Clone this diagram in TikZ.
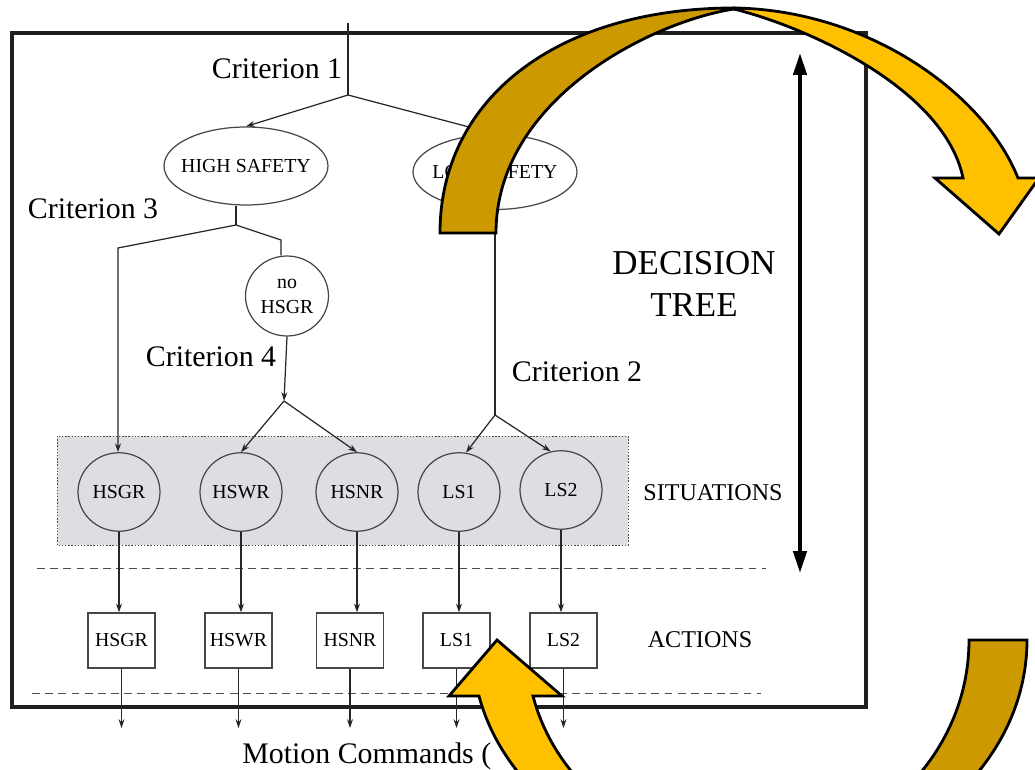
\documentclass[tikz,border=0pt]{standalone}
\usepackage{fontspec}
\setmainfont{Liberation Serif}
\usetikzlibrary{arrows.meta,shapes.geometric,calc}
\definecolor{darkgold}{RGB}{204,153,0}
\definecolor{lightgold}{RGB}{255,192,0}
\definecolor{shadegray}{RGB}{221,222,225}
\begin{document}
\begin{tikzpicture}[x=0.02cm,y=-0.02cm,
  treeline/.style={draw=black!85,line width=0.7pt},
  tarrow/.style={treeline,-{Stealth[length=5pt,width=3.4pt]}},
  oval/.style={ellipse,draw=black!72,line width=0.7pt,inner sep=0pt,font=\fontsize{11.3}{13}\selectfont},
  sitcircle/.style={oval,minimum width=1.64cm,minimum height=1.57cm},
  actbox/.style={rectangle,draw=black!72,line width=0.7pt,minimum width=1.34cm,minimum height=1.1cm,inner sep=0pt,font=\fontsize{11.3}{13}\selectfont},
  crit/.style={font=\fontsize{17}{20}\selectfont,inner sep=0pt},
  biglabel/.style={font=\fontsize{13.7}{16}\selectfont,inner sep=0pt},
  sepline/.style={draw=black!70,line width=0.5pt,dash pattern=on 4.5pt off 3pt},
  goldband/.style={draw=black,line width=1.6pt,line join=miter}
]
\useasboundingbox (0,0) rectangle (1035,770);

% frame
\draw[line width=2.3pt,draw=black!88] (12,33) rectangle (866,707);

% shaded situations region
\draw[fill=shadegray,draw=black!70,line width=0.5pt,dash pattern=on 0.8pt off 1pt] (57,436) rectangle (628,545);

% separators
\draw[sepline] (37,568) -- (766,568);
\draw[sepline] (32,693) -- (761,693);

% nodes
\node[oval,minimum width=3.28cm,minimum height=1.56cm] (hs) at (246,166) {\makebox[0pt]{HIGH SAFETY}};
\node[oval,minimum width=3.28cm,minimum height=1.5cm] (ls) at (495,172) {\makebox[0pt]{LOW SAFETY}};
\node[oval,minimum width=1.66cm,minimum height=1.6cm,align=center,font=\fontsize{11.3}{14.2}\selectfont] (nh) at (287,296) {no\\HSGR};

\node[sitcircle] (c1) at (119,492) {HSGR};
\node[sitcircle] (c2) at (241,492) {HSWR};
\node[sitcircle] (c3) at (357,492) {HSNR};
\node[sitcircle] (c4) at (459,492) {LS1};
\node[sitcircle] (c5) at (561,490) {LS2};

\node[actbox] (a1) at (121.5,640.5) {HSGR};
\node[actbox] (a2) at (238.5,640.5) {HSWR};
\node[actbox] (a3) at (350,640.5) {HSNR};
\node[actbox] (a4) at (456.5,640.5) {LS1};
\node[actbox] (a5) at (563.5,640.5) {LS2};

% labels
\node[crit] (cr1) at (277,69) {Criterion 1};
\node[crit] (cr3) at (93,209) {Criterion 3};
\node[crit] (cr4) at (211,357) {Criterion 4};
\node[crit] (cr2) at (577,372) {Criterion 2};
\node[font=\fontsize{19.9}{23.9}\selectfont,align=center,inner sep=0pt] (dt) at (694,284) {DECISION\\TREE};
\node[biglabel] (sit) at (713,493) {SITUATIONS};
\node[biglabel] (act) at (700,640) {ACTIONS};
\node[crit,anchor=base west] (mc) at (242,763) {Motion Commands (};

% tree connectors
\coordinate (top) at (348,23);
\coordinate (r1) at (348,95);
\draw[treeline] (top) -- (r1);
\draw[tarrow] (r1) -- (hs.north);
\draw[tarrow] (r1) -- (ls.north);

\coordinate (k0) at (236,225);
\coordinate (k1) at (118,248);
\coordinate (k2) at (281,240);
\draw[treeline] (hs.south -| k0) -- (k0);
\draw[tarrow] (k0) -- (k1) -- (k1 |- c1.north);
\draw[treeline] (k0) -- (k2) -- (k2 |- nh.north);

\coordinate (k3) at (284,401);
\draw[tarrow] (nh.south) -- (k3);
\draw[tarrow] (k3) -- (c2.north);
\draw[tarrow] (k3) -- (c3.north);

\coordinate (k4) at (495,415);
\draw[treeline] (ls.south) -- (k4);
\draw[tarrow] (k4) -- (c4.80);
\draw[tarrow] (k4) -- (c5.105);

\coordinate (base) at (0,728);
\foreach \i in {1,...,5}{
  \draw[tarrow] (c\i.south) -- (c\i.south |- a\i.north);
  \coordinate (o\i) at (a\i.south |- base);
  \draw[tarrow] (a\i.south) -- (o\i);
}

% decision tree double arrow
\coordinate (dtt) at (800,53);
\coordinate (dtb) at (800,573);
\draw[line width=2.2pt,{Triangle[length=12.5pt,width=7.5pt]}-{Triangle[length=12.5pt,width=7.5pt]}] (dtt) -- (dtb);

% top curved arrow
\filldraw[goldband,fill=darkgold] (440,233) .. controls (440,98) and (558,8) .. (734,8)
  -- (734,9) .. controls (650,22) and (496,100) .. (496,233) -- cycle;
\filldraw[goldband,fill=lightgold] (734,8) .. controls (870,10) and (985,95) .. (1018,178)
  -- (1039,178) -- (999,234) -- (935,178) -- (963,178)
  .. controls (945,90) and (810,28) .. (734,9) -- cycle;

% bottom curved arrow
\filldraw[goldband,fill=darkgold] (1027,640) .. controls (1027,769) and (901.8,874) .. (747.5,874)
  -- (746.5,853) .. controls (869.3,853) and (969,757.6) .. (969,640) -- cycle;
\filldraw[goldband,fill=lightgold] (747.5,874) .. controls (616.3,874) and (506.2,798.2) .. (479,696)
  -- (449,696) -- (497,640) -- (562,696) -- (533,696)
  .. controls (556.4,785.7) and (643.3,853) .. (746.5,853) -- cycle;
\end{tikzpicture}
\end{document}
